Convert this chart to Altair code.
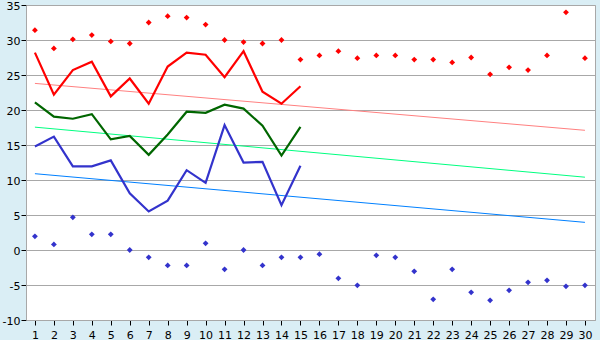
import altair as alt
import pandas as pd

days = list(range(1, 31))
days15 = list(range(1, 16))

max_temp = [28.2, 22.2, 25.7, 26.9, 21.95, 24.5, 20.9, 26.2, 28.2, 27.9, 24.7, 28.4, 22.6, 20.9, 23.4]
avg_temp = [21.1, 19.05, 18.75, 19.4, 15.8, 16.3, 13.6, 16.5, 19.75, 19.6, 20.75, 20.2, 17.75, 13.5, 17.6]
min_temp = [14.8, 16.2, 11.95, 11.95, 12.8, 8.1, 5.5, 7.05, 11.4, 9.6, 17.85, 12.5, 12.6, 6.4, 12.05]

record_high = [31.4, 28.8, 30.1, 30.7, 29.8, 29.5, 32.5, 33.4, 33.2, 32.2,
               30.0, 29.7, 29.5, 30.0, 27.2, 27.8, 28.4, 27.4, 27.8, 27.8,
               27.2, 27.2, 26.8, 27.5, 25.1, 26.1, 25.7, 27.8, 33.95, 27.4]
record_low = [1.95, 0.8, 4.67, 2.24, 2.24, 0.0, -1.05, -2.2, -2.2, 0.95,
              -2.76, 0.0, -2.2, -1.05, -1.05, -0.6, -4.05, -5.05, -0.76, -1.05,
              -3.05, -7.05, -2.76, -6.05, -7.19, -5.76, -4.62, -4.33, -5.19, -5.05]

trend_days = [1, 30]
trend_max = [23.8, 17.1]
trend_avg = [17.55, 10.4]
trend_min = [10.9, 3.95]

x_scale = alt.Scale(domain=[0.53, 30.53], nice=False, zero=False)
y_scale = alt.Scale(domain=[-10, 35], nice=False, zero=False)

x_enc = alt.X("day:Q", scale=x_scale,
              axis=alt.Axis(values=days, title=None, grid=False, tickSize=5,
                            tickColor="#000000", domainColor="#A8A8A8",
                            labelFont="DejaVu Sans", labelFontSize=11,
                            labelColor="#000000", labelPadding=4))
y_enc = alt.Y("v:Q", scale=y_scale,
              axis=alt.Axis(values=list(range(-10, 36, 5)), title=None, grid=True,
                            gridColor="#A8A8A8", gridWidth=1, tickSize=5,
                            tickColor="#000000", domainColor="#A8A8A8",
                            labelFont="DejaVu Sans", labelFontSize=11,
                            labelColor="#000000", labelPadding=1, labelOffset=1,
                            labelExpr="datum.value < 0 ? '-' + abs(datum.value) : '' + datum.value"))


def line_df(xs, ys):
    return pd.DataFrame({"day": xs, "v": ys})


def line(xs, ys, color, width):
    return alt.Chart(line_df(xs, ys)).mark_line(color=color, strokeWidth=width).encode(
        x=x_enc, y=y_enc)


def pts(xs, ys, color):
    return alt.Chart(line_df(xs, ys)).mark_point(
        shape="diamond", filled=True, color=color, size=34, opacity=1).encode(
        x=x_enc, y=y_enc)


chart = alt.layer(
    line(trend_days, trend_max, "#FF8080", 1),
    line(trend_days, trend_avg, "#00FF80", 1),
    line(trend_days, trend_min, "#0080FF", 1),
    line(days15, max_temp, "#FF0000", 2.2),
    line(days15, avg_temp, "#006600", 2.2),
    line(days15, min_temp, "#3333CC", 2.2),
    pts(days, record_high, "#FF0000"),
    pts(days, record_low, "#3333CC"),
).properties(
    width=569, height=315,
    autosize=alt.AutoSizeParams(type="none"),
    padding={"left": 26, "top": 5, "right": 5, "bottom": 20},
    background="#DAEEF5",
).configure_view(fill="#FFFFFF", stroke="#A8A8A8", strokeWidth=1)

chart.save("out.html", embed_options={"renderer": "svg", "actions": False})
